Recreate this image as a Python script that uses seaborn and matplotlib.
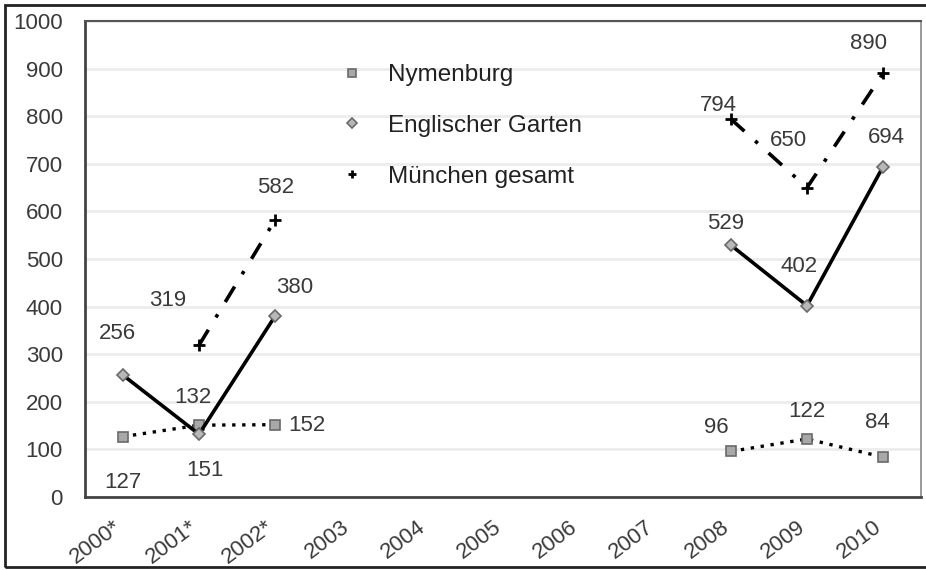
import pandas as pd
import matplotlib.pyplot as plt
import seaborn as sns
from matplotlib.lines import Line2D
from matplotlib.patches import Rectangle

# Chart data
YEARS = ['2000*', '2001*', '2002*', '2003', '2004', '2005',
         '2006', '2007', '2008', '2009', '2010']
SERIES = ['Nymenburg', 'Englischer Garten', 'München gesamt']
NYMENBURG = [127, 151, 152, None, None, None, None, None, 96, 122, 84]
ENGLISCHER_GARTEN = [256, 132, 380, None, None, None, None, None, 529, 402, 694]
MUENCHEN_GESAMT = [None, 319, 582, None, None, None, None, None, 794, 650, 890]
Y_TICKS = list(range(0, 1001, 100))

# where each value label sits relative to its point (pixels)
LABEL_OFFSETS = {
    'Nymenburg': [(0, -46), (6, -45), (32, -1), None, None, None, None, None,
                  (-15, 24), (0, 27), (-6, 35)],
    'Englischer Garten': [(-6, 42), (-6, 37), (20, 29), None, None, None, None, None,
                          (-5, 22), (-8, 39), (3, 29)],
    'München gesamt': [None, (-31, 45), (1, 33), None, None, None, None, None,
                       (-13, 14), (-19, 47), (-14, 30)],
}

STYLES = {
    'Nymenburg': dict(lw=2.4, linestyle=(0, (1, 2)), marker='s', ms=7.5,
                      mfc='#a8a8a8', mec='#6a6a6a', mew=1.2),
    'Englischer Garten': dict(lw=2.6, linestyle='-', marker='D', ms=6.5,
                              mfc='#b8b8b8', mec='#6a6a6a', mew=1.2),
    'München gesamt': dict(lw=2.6, linestyle=(0, (5, 4, 1, 4)), marker='+', ms=8,
                           mfc='black', mec='black', mew=2),
}
TEXT_COLOR = '#3a3a3a'
FONT_SIZE = 16
LABEL_SHIFT = 0.13  # rotated year labels sit a little left of the category centre


def build_frame():
    rows = []
    for name, values in zip(SERIES, [NYMENBURG, ENGLISCHER_GARTEN, MUENCHEN_GESAMT]):
        for i, v in enumerate(values):
            if v is None:
                continue
            rows.append({'pos': i, 'year': YEARS[i], 'value': v, 'series': name,
                         'segment': 0 if i < 5 else 1})
    return pd.DataFrame(rows)


def main():
    df = build_frame()

    sns.set_style('white')
    plt.rcParams['font.family'] = ['Liberation Sans', 'DejaVu Sans']

    fig = plt.figure(figsize=(9.26, 5.70), dpi=100)
    ax = fig.add_axes([0.0918, 0.128, 0.9028, 0.835])

    for name in SERIES:
        sub = df[df['series'] == name]
        sns.lineplot(data=sub, x='pos', y='value', units='segment', estimator=None,
                     color='black', legend=False, ax=ax, zorder=3, **STYLES[name])

        # value labels
        for _, r in sub.iterrows():
            off = LABEL_OFFSETS[name][int(r['pos'])]
            ax.annotate(f"{int(r['value'])}", xy=(r['pos'], r['value']),
                        xytext=off, textcoords='offset pixels',
                        ha='center', va='center', fontsize=FONT_SIZE, color=TEXT_COLOR)

    ax.set_xlim(-0.5, len(YEARS) - 0.5)
    ax.set_ylim(0, 1000)
    ax.set_yticks(Y_TICKS)
    ax.set_xticks([i - LABEL_SHIFT for i in range(len(YEARS))])
    ax.set_xticklabels(YEARS, rotation=37, ha='right', va='top',
                       rotation_mode='anchor')
    ax.set_xticks([i - 0.5 for i in range(len(YEARS) + 1)], minor=True)
    ax.tick_params(axis='x', which='major', length=0, pad=14,
                   labelsize=FONT_SIZE, labelcolor=TEXT_COLOR)
    ax.tick_params(axis='x', which='minor', length=5, width=2, color='#444',
                   direction='out')
    ax.tick_params(axis='y', length=6, width=2, color='#444', direction='out',
                   pad=10, labelsize=FONT_SIZE, labelcolor=TEXT_COLOR)
    ax.set_xlabel('')
    ax.set_ylabel('')

    ax.yaxis.grid(True, color='#ececec', lw=2)
    ax.xaxis.grid(False)
    ax.set_axisbelow(True)

    for side in ['left', 'bottom']:
        ax.spines[side].set_color('#444')
        ax.spines[side].set_linewidth(2)
    ax.spines['top'].set_color('#555')
    ax.spines['top'].set_linewidth(1.5)
    ax.spines['right'].set_color('#888')
    ax.spines['right'].set_linewidth(1.2)

    # legend with markers only
    handles = []
    for name in SERIES:
        st = STYLES[name]
        handles.append(Line2D([], [], ls='none', marker=st['marker'],
                              ms=st['ms'] * 0.8, mfc=st['mfc'], mec=st['mec'],
                              mew=st['mew']))
    ax.legend(handles, SERIES, loc='upper left', bbox_to_anchor=(0.293, 0.935),
              frameon=False, fontsize=17.5, handlelength=0.8, handletextpad=1.1,
              labelspacing=1.18, borderpad=0, labelcolor='#222')

    # outer frame of the picture
    fig.patches.append(Rectangle((0.0054, 0.005), 1.2, 0.986, transform=fig.transFigure,
                                 fill=False, lw=2, ec='#222', zorder=10))

    fig.savefig('out.png', dpi=100)


if __name__ == '__main__':
    main()
